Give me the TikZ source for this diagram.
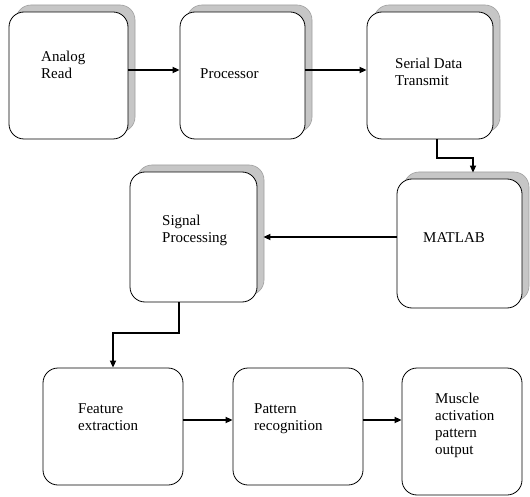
\documentclass[tikz,border=0pt]{standalone}
\usepackage{fontspec}
\setmainfont{Liberation Serif}
\usetikzlibrary{arrows.meta,shadows}
\begin{document}
\begin{tikzpicture}[x=1pt,y=-1pt,
  box/.style={draw=black,line width=0.8pt,rounded corners=15pt,fill=white,inner sep=0pt},
  shbox/.style={box,drop shadow={shadow xshift=7pt,shadow yshift=7pt,fill=gray!45,draw=gray!75,line width=0.6pt,opacity=1}},
  lbl/.style={anchor=base west,inner sep=0pt,align=left,font=\fontsize{15}{17}\selectfont},
  arr/.style={line width=1.6pt,-{Triangle[length=7pt,width=6pt]}}]
\useasboundingbox (0,0) rectangle (530,497);
% boxes
\node[shbox,minimum width=119pt,minimum height=127pt] (A) at (68.5,75.5) {};
\node[shbox,minimum width=125pt,minimum height=127pt] (B) at (242.5,75.5) {};
\node[shbox,minimum width=126pt,minimum height=127pt] (C) at (430,75.5) {};
\node[shbox,minimum width=125pt,minimum height=129pt] (D) at (459.5,243.5) {};
\node[shbox,minimum width=127pt,minimum height=130pt] (E) at (193.5,237) {};
\node[box,minimum width=140pt,minimum height=117pt] (F) at (113,426.5) {};
\node[box,minimum width=130pt,minimum height=117pt] (G) at (298,426.5) {};
\node[box,minimum width=120pt,minimum height=127pt] (H) at (462,431.5) {};
% labels (anchored at the baseline of the last line)
\node[lbl] (tA) at (41,79) {Analog\\Read};
\node[lbl] (tB) at (200,79) {Processor};
\node[lbl] (tC) at (395,86) {Serial Data\\Transmit};
\node[lbl] (tD) at (423,243) {MATLAB};
\node[lbl] (tE) at (162,242) {Signal\\Processing};
\node[lbl] (tF) at (78,430) {Feature\\extraction};
\node[lbl] (tG) at (254,430) {Pattern\\recognition};
\node[lbl] (tH) at (435,454) {Muscle\\activation\\pattern\\output};
% connectors
\draw[arr] ([yshift=5.5pt]A.east) -- ([yshift=5.5pt]B.west);
\draw[arr] ([yshift=5.5pt]B.east) -- ([yshift=5.5pt]C.west);
\coordinate (c1) at ([xshift=7pt]C.south);
\coordinate (d1) at ([xshift=13.5pt,yshift=6pt]D.north);
\draw[arr] (c1) -- (c1 |- 0,158) -- (d1 |- 0,158) -- (d1);
\draw[arr] (D.west |- E.east) -- ([xshift=6pt]E.east);
\coordinate (e1) at ([xshift=-14.5pt]E.south);
\draw[arr] (e1) -- (e1 |- 0,333) -- (F.north |- 0,333) -- (F.north);
\draw[arr] ([yshift=6.5pt]F.east) -- ([yshift=6.5pt]G.west);
\draw[arr] ([yshift=6.5pt]G.east) -- ([yshift=6.5pt]H.west |- G.east);
\end{tikzpicture}
\end{document}
